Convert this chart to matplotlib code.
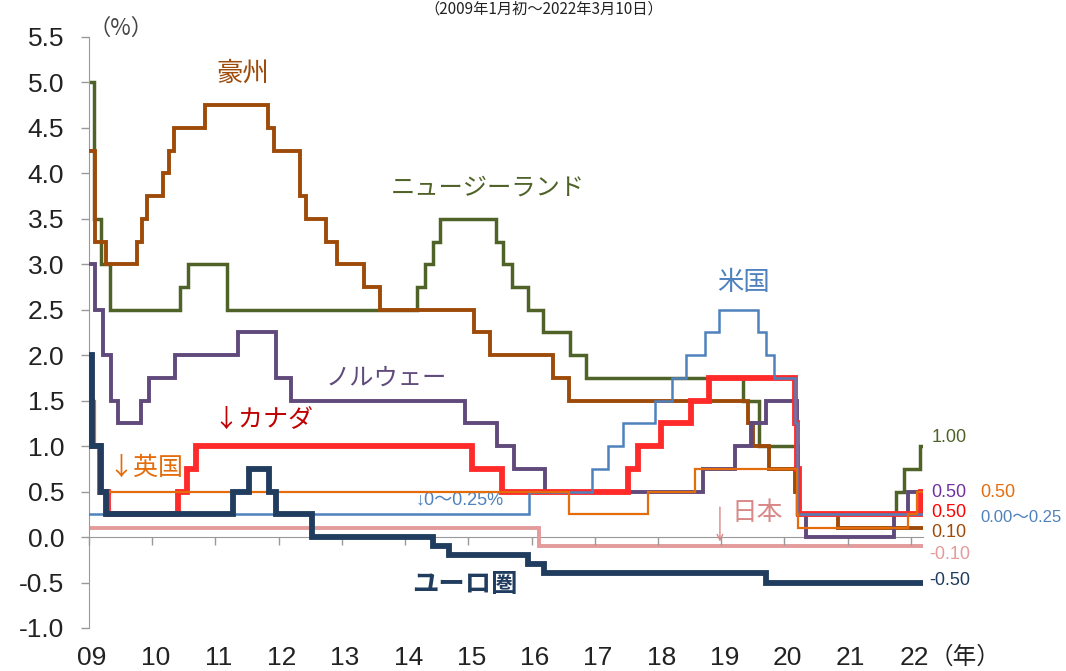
import pandas as pd
import matplotlib
matplotlib.use("Agg")
import matplotlib.pyplot as plt
import matplotlib.transforms as mtransforms

plt.rcParams['font.family'] = ['Liberation Sans', 'Noto Sans CJK JP', 'DejaVu Sans']

END = "2022-03-10"

# policy rates: change dates and new levels (%)
aus_dates = ["2009-01-01", "2009-02-04", "2009-04-08", "2009-10-07", "2009-11-04", "2009-12-02",
             "2010-03-03", "2010-04-07", "2010-05-05", "2010-11-03", "2011-11-02", "2011-12-07",
             "2012-05-02", "2012-06-06", "2012-10-03", "2012-12-05", "2013-05-08", "2013-08-07",
             "2015-02-04", "2015-05-06", "2016-05-04", "2016-08-03", "2019-06-05", "2019-07-03",
             "2019-10-02", "2020-03-04", "2020-03-20", "2020-11-04"]
aus_rates = [4.25, 3.25, 3.00, 3.25, 3.50, 3.75, 4.00, 4.25, 4.50, 4.75, 4.50, 4.25,
             3.75, 3.50, 3.25, 3.00, 2.75, 2.50, 2.25, 2.00, 1.75, 1.50, 1.25, 1.00,
             0.75, 0.50, 0.25, 0.10]

nz_dates = ["2009-01-01", "2009-01-29", "2009-03-12", "2009-04-30", "2010-06-10", "2010-07-29",
            "2011-03-10", "2014-03-13", "2014-04-24", "2014-06-12", "2014-07-24", "2015-06-11",
            "2015-07-23", "2015-09-10", "2015-12-10", "2016-03-10", "2016-08-11", "2016-11-10",
            "2019-05-08", "2019-08-07", "2020-03-16", "2021-10-06", "2021-11-24", "2022-02-23"]
nz_rates = [5.00, 3.50, 3.00, 2.50, 2.75, 3.00, 2.50, 2.75, 3.00, 3.25, 3.50, 3.25,
            3.00, 2.75, 2.50, 2.25, 2.00, 1.75, 1.50, 1.00, 0.25, 0.50, 0.75, 1.00]

nor_dates = ["2009-01-01", "2009-02-04", "2009-03-25", "2009-05-06", "2009-06-17", "2009-10-28",
             "2009-12-16", "2010-05-12", "2011-05-12", "2011-12-15", "2012-03-15", "2014-12-11",
             "2015-06-18", "2015-09-24", "2016-03-17", "2018-09-20", "2019-03-21", "2019-06-20",
             "2019-09-19", "2020-03-13", "2020-03-20", "2020-05-07", "2021-09-23", "2021-12-16"]
nor_rates = [3.00, 2.50, 2.00, 1.50, 1.25, 1.50, 1.75, 2.00, 2.25, 1.75, 1.50, 1.25,
             1.00, 0.75, 0.50, 0.75, 1.00, 1.25, 1.50, 1.00, 0.25, 0.00, 0.25, 0.50]

can_dates = ["2009-01-01", "2009-01-20", "2009-03-03", "2009-04-21", "2010-06-01", "2010-07-20",
             "2010-09-08", "2015-01-21", "2015-07-15", "2017-07-12", "2017-09-06", "2018-01-17",
             "2018-07-11", "2018-10-24", "2020-03-04", "2020-03-13", "2020-03-27", "2022-03-02"]
can_rates = [1.50, 1.00, 0.50, 0.25, 0.50, 0.75, 1.00, 0.75, 0.50, 0.75, 1.00, 1.25,
             1.50, 1.75, 1.25, 0.75, 0.25, 0.50]

uk_dates = ["2009-01-01", "2009-01-08", "2009-02-05", "2009-03-05", "2016-08-04", "2017-11-02",
            "2018-08-02", "2020-03-11", "2020-03-19", "2021-12-16", "2022-02-03"]
uk_rates = [2.00, 1.50, 1.00, 0.50, 0.25, 0.50, 0.75, 0.25, 0.10, 0.25, 0.50]

us_dates = ["2009-01-01", "2015-12-17", "2016-12-15", "2017-03-16", "2017-06-15", "2017-12-14",
            "2018-03-22", "2018-06-14", "2018-09-27", "2018-12-20", "2019-08-01", "2019-09-19",
            "2019-10-31", "2020-03-04", "2020-03-16"]
us_rates = [0.25, 0.50, 0.75, 1.00, 1.25, 1.50, 1.75, 2.00, 2.25, 2.50, 2.25, 2.00,
            1.75, 1.25, 0.25]

jp_dates = ["2009-01-01", "2016-02-16"]
jp_rates = [0.10, -0.10]

eu_dates = ["2009-01-01", "2009-01-21", "2009-03-11", "2009-04-08", "2011-04-13", "2011-07-13",
            "2011-11-09", "2011-12-14", "2012-07-11", "2014-06-11", "2014-09-10", "2015-12-09",
            "2016-03-16", "2019-09-18"]
eu_rates = [2.00, 1.00, 0.50, 0.25, 0.50, 0.75, 0.50, 0.25, 0.00, -0.10, -0.20, -0.30,
            -0.40, -0.50]

years = list(range(2009, 2023))
year_labels = ["09", "10", "11", "12", "13", "14", "15", "16", "17", "18", "19", "20", "21", "22"]


def dec_year(dates):
    out = []
    for d in dates:
        t = pd.Timestamp(d)
        n = 366 if t.is_leap_year else 365
        out.append(t.year + (t.dayofyear - 1) / n)
    return out


def stepline(ax, dates, rates, **kw):
    x = dec_year(dates + [END])
    y = rates + [rates[-1]]
    ax.step(x, y, where='post', solid_joinstyle='miter', **kw)


fig = plt.figure(figsize=(10.66, 6.71), dpi=100)
ax = fig.add_axes([0.0835, 0.0641, 0.782, 0.8808])

C_AUS = "#9E4B0A"
C_NZ = "#4F6228"
C_NOR = "#604A7B"
C_CAN = "#FF2A2A"
C_UK = "#E46C0A"
C_US = "#4F81BD"
C_JP = "#E39B9B"
C_EU = "#203C5E"

stepline(ax, jp_dates, jp_rates, color=C_JP, lw=2.8, zorder=1)
stepline(ax, nz_dates, nz_rates, color=C_NZ, lw=2.5, zorder=2)
stepline(ax, aus_dates, aus_rates, color=C_AUS, lw=2.8, zorder=3)
stepline(ax, nor_dates, nor_rates, color=C_NOR, lw=2.8, zorder=4)
stepline(ax, can_dates, can_rates, color=C_CAN, lw=4.2, zorder=5)
stepline(ax, us_dates, us_rates, color=C_US, lw=1.8, zorder=6)
stepline(ax, uk_dates, uk_rates, color=C_UK, lw=1.6, zorder=7)
stepline(ax, eu_dates, eu_rates, color=C_EU, lw=4.2, zorder=8)

ax.set_xlim(2009, dec_year([END])[0])
ax.set_ylim(-1.0, 5.5)
ax.set_yticks([-1.0 + 0.5 * i for i in range(14)])
ax.set_yticklabels([f"{-1.0 + 0.5 * i:.1f}" for i in range(14)], fontsize=19, color="#222222")
ax.set_xticks(years)
ax.set_xticklabels([])

for s in ["top", "right"]:
    ax.spines[s].set_visible(False)
ax.spines["bottom"].set_position(("data", 0))
ax.spines["bottom"].set_color("#999999")
ax.spines["left"].set_color("#999999")
ax.spines["bottom"].set_zorder(0.5)
ax.tick_params(axis="both", direction="out", length=6, color="#999999", width=1)
ax.tick_params(axis="y", pad=12)

trans = mtransforms.blended_transform_factory(ax.transData, fig.transFigure)
for yr, lab in zip(years, year_labels):
    ax.text(yr + 0.05, 0.002, lab, transform=trans, ha="center", va="bottom",
            fontsize=19, color="#222222", family=["Liberation Sans Narrow", "Liberation Sans"])
fig.text(0.872, 0.004, "（年）", ha="left", va="bottom", fontsize=17, color="#222222",
         family=["Noto Sans CJK JP"])
fig.text(0.083, 0.94, "（%）", ha="left", va="bottom", fontsize=16, color="#444444",
         family=["Noto Sans CJK JP"])
fig.text(0.51, 0.999, "（2009年1月初～2022年3月10日）", ha="center", va="top",
         fontsize=11, color="#222222", family=["Noto Sans CJK JP"])

# series names
jp_font = ["Noto Sans CJK JP"]
ax.text(2011.44, 5.1, "豪州", color=C_AUS, fontsize=19, ha="center", va="center", family=jp_font)
ax.text(2015.31, 3.84, "ニュージーランド", color=C_NZ, fontsize=17.5, ha="center", va="center", family=jp_font)
ax.text(2019.35, 2.8, "米国", color=C_US, fontsize=19, ha="center", va="center", family=jp_font)
ax.text(2013.7, 1.75, "ノルウェー", color=C_NOR, fontsize=17.5, ha="center", va="center", family=jp_font)
ax.text(2011.75, 1.29, "↓カナダ", color="#C00000", fontsize=18, ha="center", va="center", family=jp_font)
ax.text(2009.9, 0.76, "↓英国", color=C_UK, fontsize=18, ha="center", va="center", family=jp_font)
ax.text(2014.87, 0.41, "↓0〜0.25%", color=C_US, fontsize=13, ha="center", va="center",
        family=["Liberation Sans", "Noto Sans CJK JP"])
ax.text(2019.57, 0.26, "日本", color="#D98888", fontsize=18.5, ha="center", va="center", family=jp_font)
ax.annotate("", xy=(2018.98, -0.08), xytext=(2018.98, 0.36),
            arrowprops=dict(arrowstyle="->", color="#D98888", lw=1))
ax.text(2014.95, -0.52, "ユーロ圏", color=C_EU, fontsize=19, ha="center", va="center", family=jp_font,
        fontweight="bold")

# end values
vx = 2022.33
ax.text(vx, 1.09, "1.00", color=C_NZ, fontsize=13, ha="left", va="center", clip_on=False)
ax.text(vx, 0.49, "0.50", color="#7030A0", fontsize=13, ha="left", va="center", clip_on=False)
ax.text(vx + 0.77, 0.49, "0.50", color=C_UK, fontsize=13, ha="left", va="center", clip_on=False)
ax.text(vx, 0.27, "0.50", color="#FF0000", fontsize=13, ha="left", va="center", clip_on=False)
ax.text(vx + 0.77, 0.22, "0.00〜0.25", color=C_US, fontsize=12, ha="left", va="center", clip_on=False,
        family=["Liberation Sans", "Noto Sans CJK JP"])
ax.text(vx, 0.05, "0.10", color=C_AUS, fontsize=13, ha="left", va="center", clip_on=False)
ax.text(vx - 0.04, -0.19, "-0.10", color=C_JP, fontsize=13, ha="left", va="center", clip_on=False)
ax.text(vx - 0.04, -0.48, "-0.50", color=C_EU, fontsize=13, ha="left", va="center", clip_on=False)

fig.savefig("out.png", dpi=100)
